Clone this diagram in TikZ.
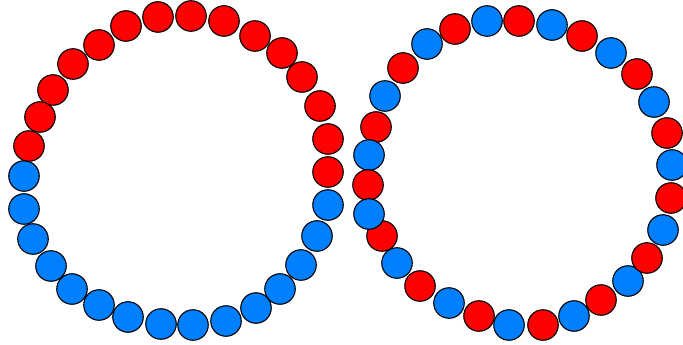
\documentclass[tikz,border=0pt]{standalone}
\definecolor{bead red}{RGB}{255,0,0}
\definecolor{bead blue}{RGB}{0,128,255}
\tikzset{
  bead/.style={circle, draw=black, line width=1.1pt, minimum size=30.5pt, inner sep=0pt},
  rb/.style={bead, fill=bead red},
  bb/.style={bead, fill=bead blue}
}
\begin{document}
\begin{tikzpicture}[x=1pt,y=-1pt]
\useasboundingbox (0,0) rectangle (683,345);
% left ring
\foreach \x/\y/\s [count=\i] in {
 24/176/bb, 24/209/bb, 33/239/bb, 51/266/bb, 72/289/bb, 99/305/bb, 128/317/bb, 161/324/bb,
 193/325/bb, 226/321/bb, 256/308/bb, 280/289/bb, 301/265/bb, 317/236/bb, 328/205/bb,
 328/172/rb, 328/139/rb, 320/106/rb, 302/77/rb, 282/53/rb, 255/36/rb, 224/21/rb, 191/16/rb,
 158/17/rb, 126/26/rb, 99/45/rb, 73/64/rb, 53/90/rb, 40/117/rb, 29/146/rb}
 { \node[\s] (L\i) at (\x,\y) {}; }
% right ring
\foreach \x/\y/\s [count=\i] in {
 382/236/rb, 397/263/bb, 420/286/rb, 449/303/bb, 479/316/rb, 509/325/bb, 543/325/rb,
 574/316/bb, 601/300/rb, 628/281/bb, 647/258/rb, 663/230/bb, 672/165/bb, 671/198/rb,
 667/133/rb, 654/102/bb, 637/74/rb, 611/53/bb, 582/36/rb, 552/25/bb, 519/21/rb, 487/21/bb,
 455/29/rb, 427/44/bb, 403/68/rb, 385/96/bb, 376/127/rb, 369/155/bb, 368/185/rb, 369/214/bb}
 { \node[\s] (R\i) at (\x,\y) {}; }
\end{tikzpicture}
\end{document}
